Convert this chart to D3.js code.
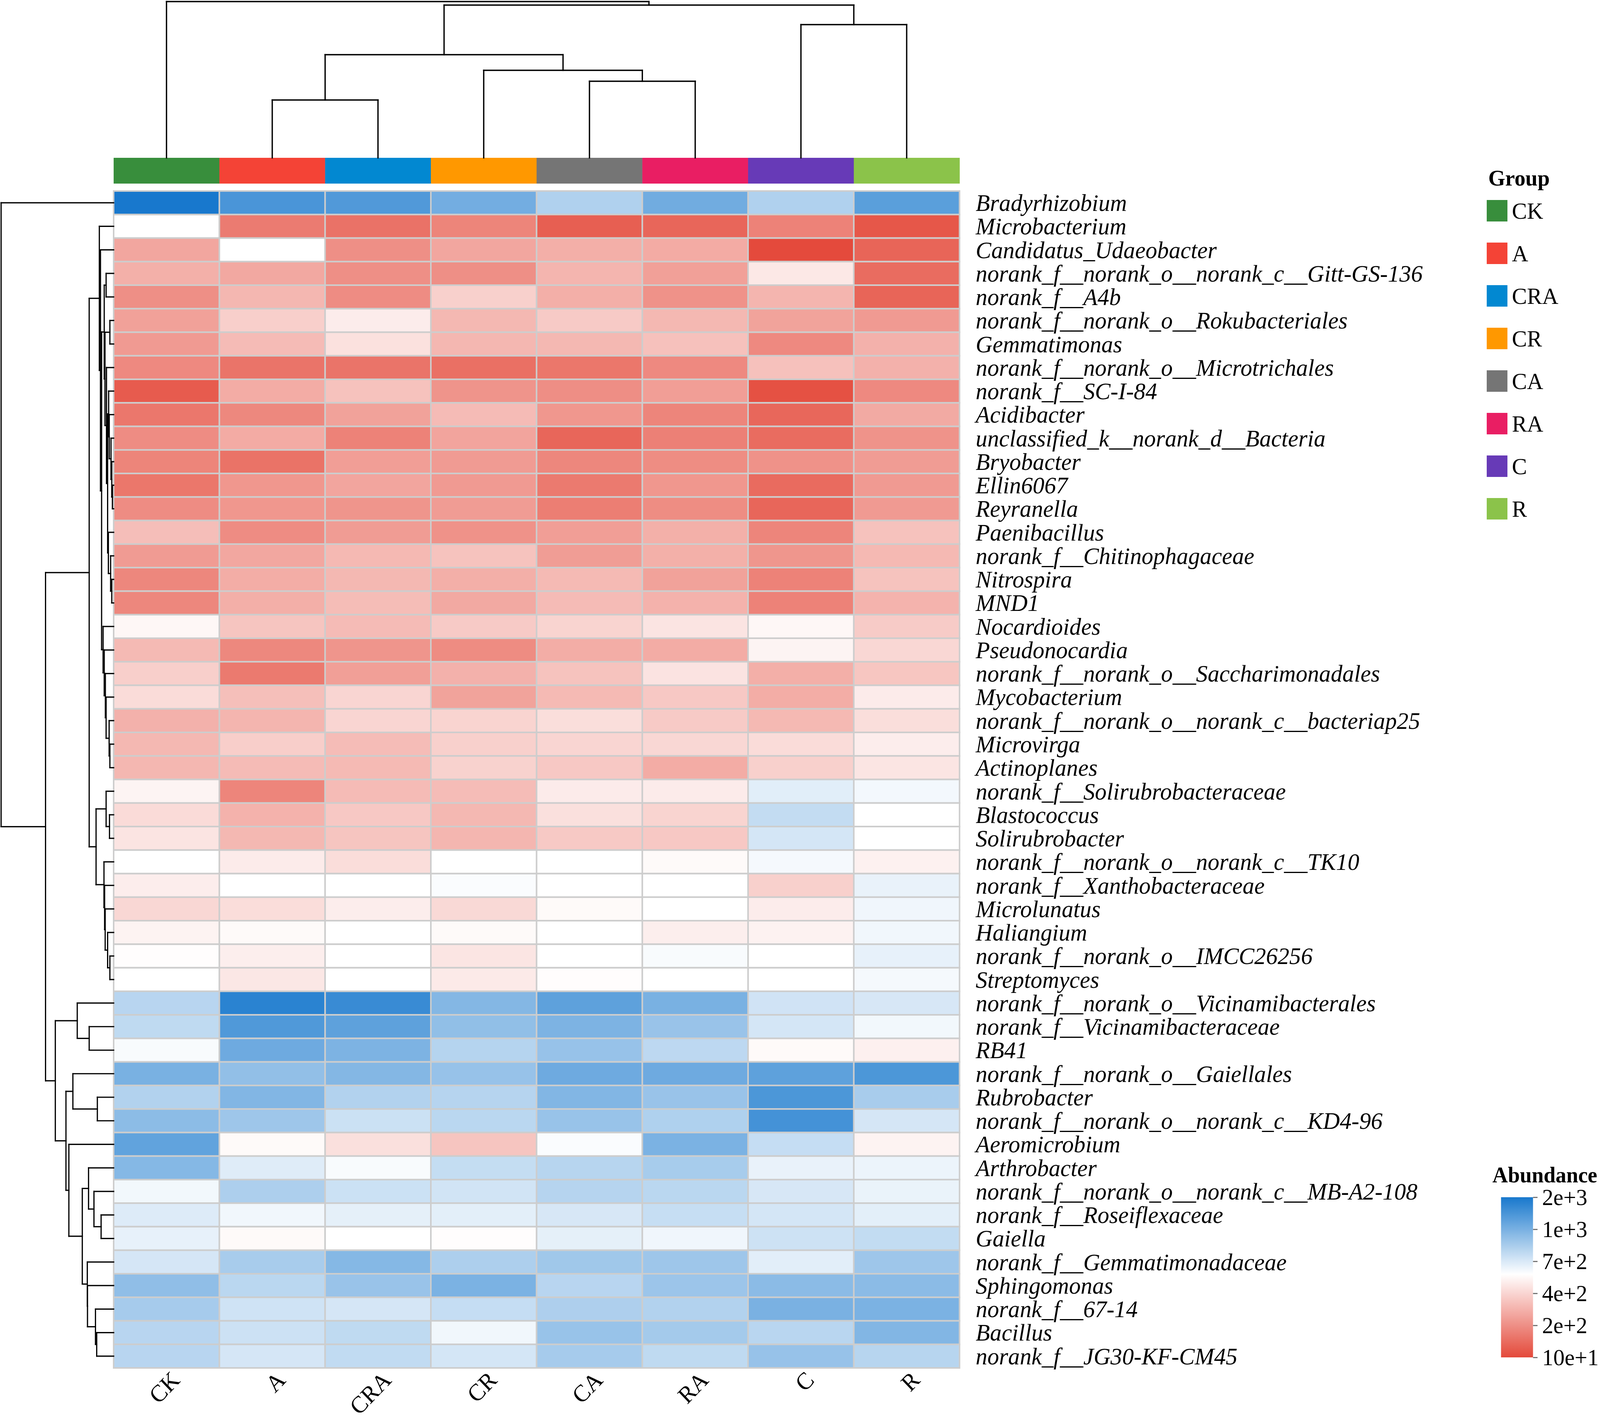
<!DOCTYPE html>
<html>
<head>
<meta charset="utf-8">
<title>Genus abundance heatmap</title>
<script src="https://cdn.jsdelivr.net/npm/d3@7"></script>
<style>
  html, body { margin: 0; padding: 0; background: #fff; overflow: hidden; }
  svg { display: block; width: 100vw; height: 100vh; }
  text { font-family: "Liberation Serif", "Times New Roman", serif; fill: #000; }
</style>
</head>
<body>
<div id="chart"></div>
<script>
// ---- data ----
const groups = ['CK', 'A', 'CRA', 'CR', 'CA', 'RA', 'C', 'R'];
const groupColors = ['#388E3C', '#F44336', '#0288D1', '#FF9800', '#757575', '#E91E63', '#673AB7', '#8BC34A'];

const rowNames = [
    'Bradyrhizobium', 'Microbacterium', 'Candidatus_Udaeobacter', 'norank_f__norank_o__norank_c__Gitt-GS-136',
    'norank_f__A4b', 'norank_f__norank_o__Rokubacteriales', 'Gemmatimonas', 'norank_f__norank_o__Microtrichales',
    'norank_f__SC-I-84', 'Acidibacter', 'unclassified_k__norank_d__Bacteria', 'Bryobacter', 'Ellin6067',
    'Reyranella', 'Paenibacillus', 'norank_f__Chitinophagaceae', 'Nitrospira', 'MND1', 'Nocardioides',
    'Pseudonocardia', 'norank_f__norank_o__Saccharimonadales', 'Mycobacterium',
    'norank_f__norank_o__norank_c__bacteriap25', 'Microvirga', 'Actinoplanes', 'norank_f__Solirubrobacteraceae',
    'Blastococcus', 'Solirubrobacter', 'norank_f__norank_o__norank_c__TK10', 'norank_f__Xanthobacteraceae',
    'Microlunatus', 'Haliangium', 'norank_f__norank_o__IMCC26256', 'Streptomyces',
    'norank_f__norank_o__Vicinamibacterales', 'norank_f__Vicinamibacteraceae', 'RB41',
    'norank_f__norank_o__Gaiellales', 'Rubrobacter', 'norank_f__norank_o__norank_c__KD4-96', 'Aeromicrobium',
    'Arthrobacter', 'norank_f__norank_o__norank_c__MB-A2-108', 'norank_f__Roseiflexaceae', 'Gaiella',
    'norank_f__Gemmatimonadaceae', 'Sphingomonas', 'norank_f__67-14', 'Bacillus', 'norank_f__JG30-KF-CM45'
];

// abundance per group, in row order
const valCK = [2000, 580, 266, 294, 200, 251, 231, 192, 126, 166, 196, 185, 165, 196, 334, 234, 189, 189, 546, 323, 383, 430, 297, 317, 314, 534, 426, 465, 580, 504, 409, 529, 573, 580, 802, 780, 603, 997, 819, 937, 1240, 960, 619, 687, 654, 712, 927, 856, 802, 802];
const valA = [1485, 172, 580, 271, 314, 383, 326, 162, 283, 190, 280, 160, 223, 223, 196, 269, 286, 291, 354, 190, 170, 337, 309, 380, 326, 186, 300, 317, 495, 580, 435, 558, 507, 477, 1810, 1420, 1110, 921, 969, 882, 558, 679, 837, 625, 558, 850, 796, 730, 738, 712];
const valCRA = [1410, 159, 200, 200, 196, 499, 451, 162, 346, 254, 182, 243, 263, 217, 237, 320, 317, 331, 326, 217, 246, 400, 400, 329, 323, 326, 363, 354, 435, 580, 504, 580, 580, 580, 1655, 1270, 985, 962, 819, 741, 447, 603, 741, 661, 580, 960, 898, 712, 780, 774];
const valCR = [1050, 185, 266, 200, 386, 317, 314, 156, 214, 326, 260, 234, 231, 237, 209, 349, 291, 274, 369, 195, 297, 257, 397, 386, 391, 329, 317, 311, 580, 595, 417, 558, 469, 490, 962, 924, 811, 903, 808, 796, 354, 763, 724, 667, 573, 837, 990, 760, 625, 715];
const valCA = [825, 132, 291, 309, 291, 369, 317, 165, 199, 223, 142, 189, 170, 175, 243, 240, 323, 326, 397, 286, 349, 323, 439, 400, 363, 495, 447, 366, 580, 580, 558, 580, 580, 573, 1270, 985, 903, 1110, 969, 900, 595, 804, 808, 706, 661, 876, 802, 834, 900, 856];
const valRA = [1080, 142, 280, 249, 209, 317, 343, 192, 243, 186, 179, 197, 223, 197, 294, 294, 254, 300, 465, 283, 460, 363, 369, 409, 283, 495, 397, 363, 558, 580, 580, 507, 603, 580, 997, 898, 786, 1110, 898, 828, 990, 853, 796, 757, 628, 882, 889, 819, 864, 780];
const valC = [825, 182, 102, 481, 309, 257, 192, 343, 112, 143, 150, 209, 149, 142, 186, 220, 182, 182, 546, 534, 291, 286, 320, 430, 386, 673, 766, 715, 610, 386, 499, 525, 580, 580, 727, 715, 558, 1270, 1455, 1540, 760, 648, 706, 715, 735, 670, 943, 994, 799, 903];
const valR = [1315, 120, 140, 150, 140, 231, 297, 297, 192, 277, 211, 237, 231, 231, 346, 320, 349, 303, 371, 409, 357, 495, 439, 504, 469, 616, 580, 580, 520, 648, 628, 625, 654, 610, 706, 619, 517, 1455, 850, 712, 529, 640, 645, 667, 769, 882, 943, 990, 970, 804];
const groupValues = [valCK, valA, valCRA, valCR, valCA, valRA, valC, valR];

// legend breaks and their printed labels
const legendBreaks = [100, 200, 400, 700, 1000, 2000];
const legendLabels = ['10e+1', '2e+2', '4e+2', '7e+2', '1e+3', '2e+3'];

// dendrograms as [height, left, right]; leaves are indices into the order arrays
const colTree = [400, 0, [391, [264, [148, 1, 2], [224, 3, [196, 4, 5]]], [341, 6, 7]]];

const redTop = [38, 1, [35, 2, [32,
    [25, [20, 3, 4], [23, [10, 5, 6], [19, 7, [16,
        [13.3, 8, [11.7, 9, [7, 10, [5, 11, [3.3, 12, 13]]]]],
        [14, 14, [8, 15, [5, 16, 17]]]]]]],
    [28, 18, [25, 19, [22, 20, [20, 21, [12, 22, [10, 23, 24]]]]]]]]];
const redLow = [46.7, [20, 25, [11, 26, 27]], [25.7, 28, [24, 29, [22.5, 30, [16, 31, [10, 32, 33]]]]]];
const blueCluster = [155, [96.7, 34, [65, 35, 36]],
    [126.7, [108.3, 37, [43.3, 38, 39]],
        [119, 40, [83.3, [66.7, 41, [52.3, 42, [33.3, 43, 44]]],
            [70, 45, [69.5, 46, [48.3, 47, [45, 48, 49]]]]]]]];
const rowTree = [299, 0, [181, [65, redTop, redLow], blueCluster]];

// ---- layout ----
const W = 4252, H = 3643;
const heat = { left: 302, right: 2550, top: 489, bottom: 3502 };
const annot = { top: 404, bottom: 470 };

// the svg is stretched over the whole viewport the browser gives
const svg = d3.select('#chart').append('svg')
    .attr('viewBox', `0 0 ${W} ${H}`)
    .attr('preserveAspectRatio', 'none');
svg.append('rect').attr('width', W).attr('height', H).attr('fill', '#fff');

const x = d3.scaleBand().domain(groups).range([heat.left, heat.right]);
const y = d3.scaleBand().domain(rowNames).range([heat.top, heat.bottom]);

// value -> position on the legend (0..1), then -> colour
const pos = d3.scaleLinear().domain(legendBreaks).range([0, 0.2, 0.4, 0.6, 0.8, 1]).clamp(true);
const ramp = d3.scaleLinear().domain([0, 0.52, 1]).range(['#E4493A', '#FFFFFF', '#1878CD']);
const color = (v) => ramp(pos(v));

// heatmap cells
const cells = [];
groups.forEach((g, gi) => {
    rowNames.forEach((r, ri) => cells.push({ g, r, v: groupValues[gi][ri] }));
});

svg.append('g')
    .selectAll('rect')
    .data(cells)
    .enter()
    .append('rect')
    .attr('x', (d) => x(d.g))
    .attr('y', (d) => y(d.r))
    .attr('width', x.bandwidth())
    .attr('height', y.bandwidth())
    .attr('fill', (d) => color(d.v))
    .attr('stroke', '#CDCDCD')
    .attr('stroke-width', 4);

// group annotation bar
svg.append('g')
    .selectAll('rect')
    .data(groups)
    .enter()
    .append('rect')
    .attr('x', (d) => x(d))
    .attr('y', annot.top)
    .attr('width', x.bandwidth() + 0.5)
    .attr('height', annot.bottom - annot.top)
    .attr('fill', (d, i) => groupColors[i]);

// row labels
svg.append('g')
    .selectAll('text')
    .data(rowNames)
    .enter()
    .append('text')
    .attr('x', heat.right + 43)
    .attr('y', (d) => y(d) + y.bandwidth() / 2)
    .attr('dominant-baseline', 'central')
    .attr('font-style', 'italic')
    .attr('font-size', 62)
    .text((d) => d);

// column labels, rotated 45 degrees
svg.append('g')
    .selectAll('text')
    .data(groups)
    .enter()
    .append('text')
    .attr('transform', (d) => `translate(${x(d) + x.bandwidth() / 2 + 8},${heat.bottom + 4}) rotate(-45)`)
    .attr('text-anchor', 'end')
    .attr('dominant-baseline', 'hanging')
    .attr('font-size', 61)
    .text((d) => d);

// ---- dendrograms ----
// walk a [h, left, right] tree, collect elbow segments
function walk(node, leafPos, segs) {
    if (typeof node === 'number') return { p: leafPos(node), h: 0 };
    const a = walk(node[1], leafPos, segs);
    const b = walk(node[2], leafPos, segs);
    const h = node[0];
    segs.push({ p1: a.p, p2: b.p, h1: h, h2: h });   // bar joining the two children
    segs.push({ p1: a.p, p2: a.p, h1: h, h2: a.h }); // drop to left child
    segs.push({ p1: b.p, p2: b.p, h1: h, h2: b.h }); // drop to right child
    return { p: (a.p + b.p) / 2, h };
}

// column dendrogram on top
const colSegs = [];
walk(colTree, (i) => x(groups[i]) + x.bandwidth() / 2, colSegs);
const colH = d3.scaleLinear().domain([0, 400]).range([annot.top, 4]);
svg.append('g')
    .selectAll('line')
    .data(colSegs)
    .enter()
    .append('line')
    .attr('x1', (d) => d.p1).attr('x2', (d) => d.p2)
    .attr('y1', (d) => colH(d.h1)).attr('y2', (d) => colH(d.h2))
    .attr('stroke', '#000').attr('stroke-width', 3.5).attr('stroke-linecap', 'square');

// row dendrogram on the left
const rowSegs = [];
walk(rowTree, (i) => y(rowNames[i]) + y.bandwidth() / 2, rowSegs);
const rowH = d3.scaleLinear().domain([0, 299]).range([heat.left, 3]);
svg.append('g')
    .selectAll('line')
    .data(rowSegs)
    .enter()
    .append('line')
    .attr('x1', (d) => rowH(d.h1)).attr('x2', (d) => rowH(d.h2))
    .attr('y1', (d) => d.p1).attr('y2', (d) => d.p2)
    .attr('stroke', '#000').attr('stroke-width', 3.2).attr('stroke-linecap', 'square');

// ---- group legend ----
const gLeg = svg.append('g').attr('transform', 'translate(3951,0)');
gLeg.append('text')
    .attr('x', 4).attr('y', 475)
    .attr('font-weight', 'bold').attr('font-size', 58)
    .text('Group');
const legItems = gLeg.selectAll('g.item')
    .data(groups)
    .enter()
    .append('g')
    .attr('class', 'item')
    .attr('transform', (d, i) => `translate(0,${512 + i * 109})`);
legItems.append('rect')
    .attr('width', 55).attr('height', 55)
    .attr('fill', (d, i) => groupColors[i]);
legItems.append('text')
    .attr('x', 67).attr('y', 28)
    .attr('dominant-baseline', 'central')
    .attr('font-size', 60)
    .text((d) => d);

// ---- abundance legend ----
const bar = { x: 3989, w: 85, top: 3065, bottom: 3475 };
const defs = svg.append('defs');
const grad = defs.append('linearGradient')
    .attr('id', 'abund')
    .attr('x1', 0).attr('y1', 1).attr('x2', 0).attr('y2', 0);
grad.selectAll('stop')
    .data(d3.range(0, 1.0001, 0.02))
    .enter()
    .append('stop')
    .attr('offset', (t) => t)
    .attr('stop-color', (t) => ramp(t));

svg.append('text')
    .attr('x', 3966).attr('y', 3027)
    .attr('font-weight', 'bold').attr('font-size', 57)
    .text('Abundance');
svg.append('rect')
    .attr('x', bar.x).attr('y', bar.top)
    .attr('width', bar.w).attr('height', bar.bottom - bar.top)
    .attr('fill', 'url(#abund)');

const legScale = d3.scaleLinear()
    .domain(legendBreaks)
    .range(legendBreaks.map((_, i) => bar.bottom - i * (bar.bottom - bar.top) / 5));
const legAxis = svg.append('g')
    .attr('transform', `translate(${bar.x + bar.w},0)`)
    .call(d3.axisRight(legScale)
        .tickValues(legendBreaks)
        .tickFormat((d, i) => legendLabels[i])
        .tickSize(12)
        .tickPadding(12));
legAxis.select('.domain').remove();
legAxis.selectAll('line').attr('stroke', '#777').attr('stroke-width', 3);
legAxis.selectAll('text')
    .attr('font-size', 60)
    .attr('font-family', '"Liberation Serif", "Times New Roman", serif')
    .attr('fill', '#000');
</script>
</body>
</html>
